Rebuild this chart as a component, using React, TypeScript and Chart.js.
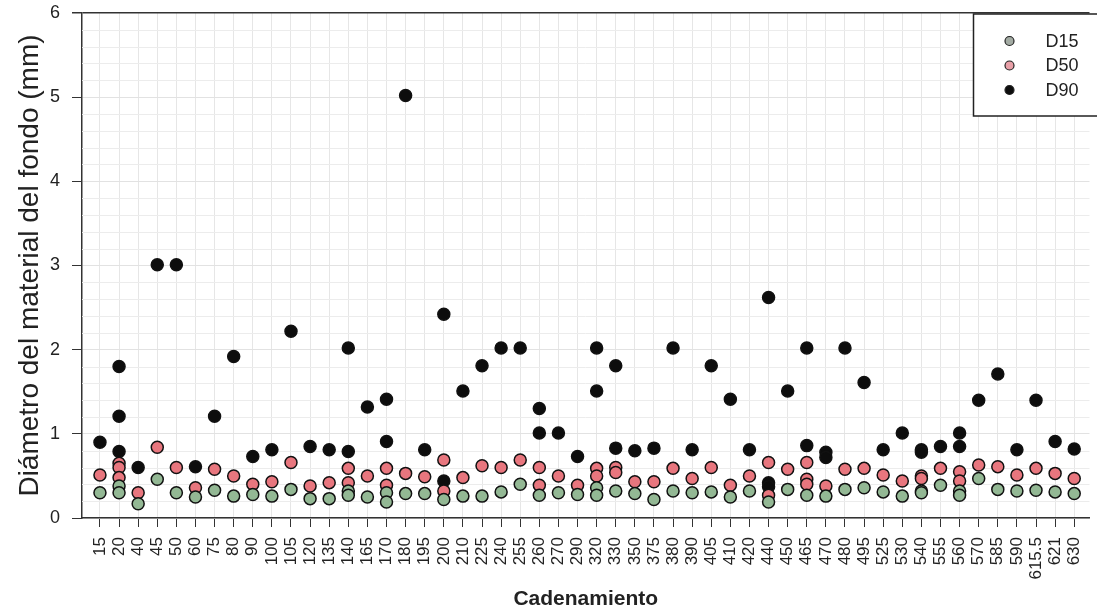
import React, { useEffect, useRef } from "react";
import { Chart, registerables } from "chart.js";

Chart.register(...registerables);

const categories = ["15","20","40","45","50","60","75","80","90","100","105","120","135","140","165","170","180","195","200","210","225","240","255","260","270","290","320","330","350","375","380","390","405","410","420","440","450","465","470","480","495","525","530","540","555","560","570","585","590","615.5","621","630"];

const d15Values: number[][] = [
  [0.30],[0.38,0.30],[0.17],[0.46],[0.30],[0.25],[0.33],[0.26],[0.28],[0.26],
  [0.34],[0.23],[0.23],[0.32,0.27],[0.25],[0.30,0.19],[0.29],[0.29],[0.22],[0.26],
  [0.26],[0.31],[0.40],[0.27],[0.30],[0.28],[0.36,0.27],[0.32],[0.29],[0.22],
  [0.32],[0.30],[0.31],[0.25],[0.32],[0.19],[0.34],[0.27],[0.26],[0.34],
  [0.36],[0.31],[0.26],[0.32,0.30],[0.39],[0.32,0.27],[0.47],[0.34],[0.32],[0.33],
  [0.31],[0.29]
];

const d50Values: number[][] = [
  [0.51],[0.65,0.60,0.48],[0.30],[0.84],[0.60],[0.36],[0.58],[0.50],[0.40],[0.43],
  [0.66],[0.38],[0.42],[0.59,0.42],[0.50],[0.59,0.39],[0.53],[0.49],[0.69,0.32],[0.48],
  [0.62],[0.60],[0.69],[0.60,0.39],[0.50],[0.39],[0.59,0.50],[0.60,0.54],[0.43],[0.43],
  [0.59],[0.47],[0.60],[0.39],[0.50],[0.66,0.27],[0.58],[0.66,0.46,0.40],[0.38],[0.58],
  [0.59],[0.51],[0.44],[0.50,0.47],[0.59],[0.55,0.44],[0.63],[0.61],[0.51],[0.59],
  [0.53],[0.47]
];

const d90Values: number[][] = [
  [0.90],[1.80,1.21,0.79],[0.60],[3.01],[3.01],[0.61],[1.21],[1.92],[0.73],[0.81],
  [2.22],[0.85],[0.81],[2.02,0.79],[1.32],[1.41,0.91],[5.02],[0.81],[2.42,0.44],[1.51],
  [1.81],[2.02],[2.02],[1.30,1.01],[1.01],[0.73],[2.02,1.51],[1.81,0.83],[0.80],[0.83],
  [2.02],[0.81],[1.81],[1.41],[0.81],[2.62,0.42,0.37],[1.51],[2.02,0.86],[0.78,0.72],[2.02],
  [1.61],[0.81],[1.01],[0.81,0.78],[0.85],[1.01,0.85],[1.40],[1.71],[0.81],[1.40],
  [0.91],[0.82]
];

const yTicks = [0, 1, 2, 3, 4, 5, 6];
const seriesNames = ["D15", "D50", "D90"];
const seriesColors = ["#93b894", "#e8767e", "#0d0d0d"];

const FONT = '"Liberation Sans", Arial, Helvetica, sans-serif';

function toPoints(vals: number[][]) {
  const pts: { x: number; y: number }[] = [];
  vals.forEach((arr, i) => arr.forEach((v) => pts.push({ x: i, y: v })));
  return pts;
}

const minorGrid = {
  id: "minorGrid",
  beforeDatasetsDraw(chart: any) {
    const { ctx, chartArea, scales } = chart;
    const y = scales.y;
    ctx.save();
    ctx.strokeStyle = "#ececec";
    ctx.lineWidth = 1;
    for (let k = 1; k < 30; k++) {
      if (k % 5 === 0) continue;
      const py = Math.round(y.getPixelForValue(k * 0.2)) + 0.5;
      ctx.beginPath();
      ctx.moveTo(chartArea.left, py);
      ctx.lineTo(chartArea.right, py);
      ctx.stroke();
    }
    ctx.restore();
  },
};

const boxLegend = {
  id: "boxLegend",
  afterDraw(chart: any) {
    const { ctx, chartArea } = chart;
    const left = chartArea.right - 116;
    const top = chartArea.top + 1;
    const bottom = top + 102;
    const right = chart.width + 4;
    ctx.save();
    ctx.fillStyle = "#ffffff";
    ctx.fillRect(left, top, right - left, bottom - top);
    ctx.strokeStyle = "#222";
    ctx.lineWidth = 1.5;
    ctx.strokeRect(left, top, right - left, bottom - top);
    chart.data.datasets.forEach((ds: any, i: number) => {
      const cy = top + 27 + i * 24.5;
      const cx = left + 36;
      ctx.beginPath();
      ctx.arc(cx, cy, 4.5, 0, Math.PI * 2);
      ctx.fillStyle = i === 0 ? "#a3aba3" : i === 1 ? "#e9a0a8" : "#0d0d0d";
      ctx.fill();
      ctx.lineWidth = 1.2;
      ctx.strokeStyle = "#222";
      ctx.stroke();
      ctx.fillStyle = "#222";
      ctx.font = `18px ${FONT}`;
      ctx.textAlign = "left";
      ctx.textBaseline = "middle";
      ctx.fillText(ds.label, left + 72, cy + 1);
    });
    ctx.restore();
  },
};

function zeroPadding(scale: any) {
  scale.paddingTop = 0;
  scale.paddingBottom = 0;
  scale.paddingLeft = 0;
  scale.paddingRight = 0;
}

export default function App() {
  const ref = useRef<HTMLCanvasElement | null>(null);

  useEffect(() => {
    if (!ref.current) return;
    const allVals = [d15Values, d50Values, d90Values];
    const chart = new Chart(ref.current, {
      type: "scatter",
      data: {
        datasets: allVals.map((vals, i) => ({
          label: seriesNames[i],
          data: toPoints(vals),
          backgroundColor: seriesColors[i],
          borderColor: "#111",
          borderWidth: 1.5,
          pointRadius: 6,
          pointHoverRadius: 6,
        })),
      },
      options: {
        responsive: false,
        animation: false,
        layout: { padding: { top: 13, right: 5, left: 0, bottom: 0 } },
        plugins: { legend: { display: false }, tooltip: { enabled: false } },
        scales: {
          x: {
            type: "linear",
            min: -0.94,
            max: 51.8,
            afterBuildTicks: (scale: any) => {
              scale.ticks = categories.map((_, i) => ({ value: i }));
            },
            afterFit: (scale: any) => {
              scale.height = 95;
              zeroPadding(scale);
            },
            ticks: {
              autoSkip: false,
              maxRotation: 90,
              minRotation: 90,
              padding: 10,
              color: "#222",
              font: { family: FONT, size: 17 },
              callback: (v: any) => categories[v as number] ?? "",
            },
            grid: {
              color: "#e6e6e6",
              tickColor: "#333",
              tickLength: 9,
              lineWidth: 1,
            },
            border: { color: "#333", width: 1.5 },
            title: {
              display: true,
              text: "Cadenamiento",
              color: "#222",
              font: { family: FONT, size: 21, weight: "bold", lineHeight: 1.2 },
              padding: { top: 0, bottom: 1 },
            },
          },
          y: {
            min: 0,
            max: 6,
            afterBuildTicks: (scale: any) => {
              scale.ticks = yTicks.map((v) => ({ value: v }));
            },
            afterFit: (scale: any) => {
              scale.width = 82;
              zeroPadding(scale);
            },
            ticks: {
              padding: 12,
              color: "#222",
              font: { family: FONT, size: 18 },
            },
            grid: {
              color: (c: any) => (c.tick && c.tick.value === 6 ? "#333" : "#e2e2e2"),
              lineWidth: (c: any) => (c.tick && c.tick.value === 6 ? 1.5 : 1),
              tickColor: "#333",
              tickLength: 10,
            },
            border: { color: "#333", width: 1.5 },
            title: {
              display: true,
              text: "Diámetro del material del fondo (mm)",
              color: "#222",
              font: { family: FONT, size: 28, lineHeight: 1 },
              padding: { top: 16, bottom: 0 },
            },
          },
        },
      },
      plugins: [minorGrid, boxLegend],
    } as any);
    return () => chart.destroy();
  }, []);

  return (
    <div style={{ position: "absolute", left: 0, top: 0, width: 1097, height: 613, background: "#fff" }}>
      <canvas ref={ref} width={1097} height={613} />
    </div>
  );
}
